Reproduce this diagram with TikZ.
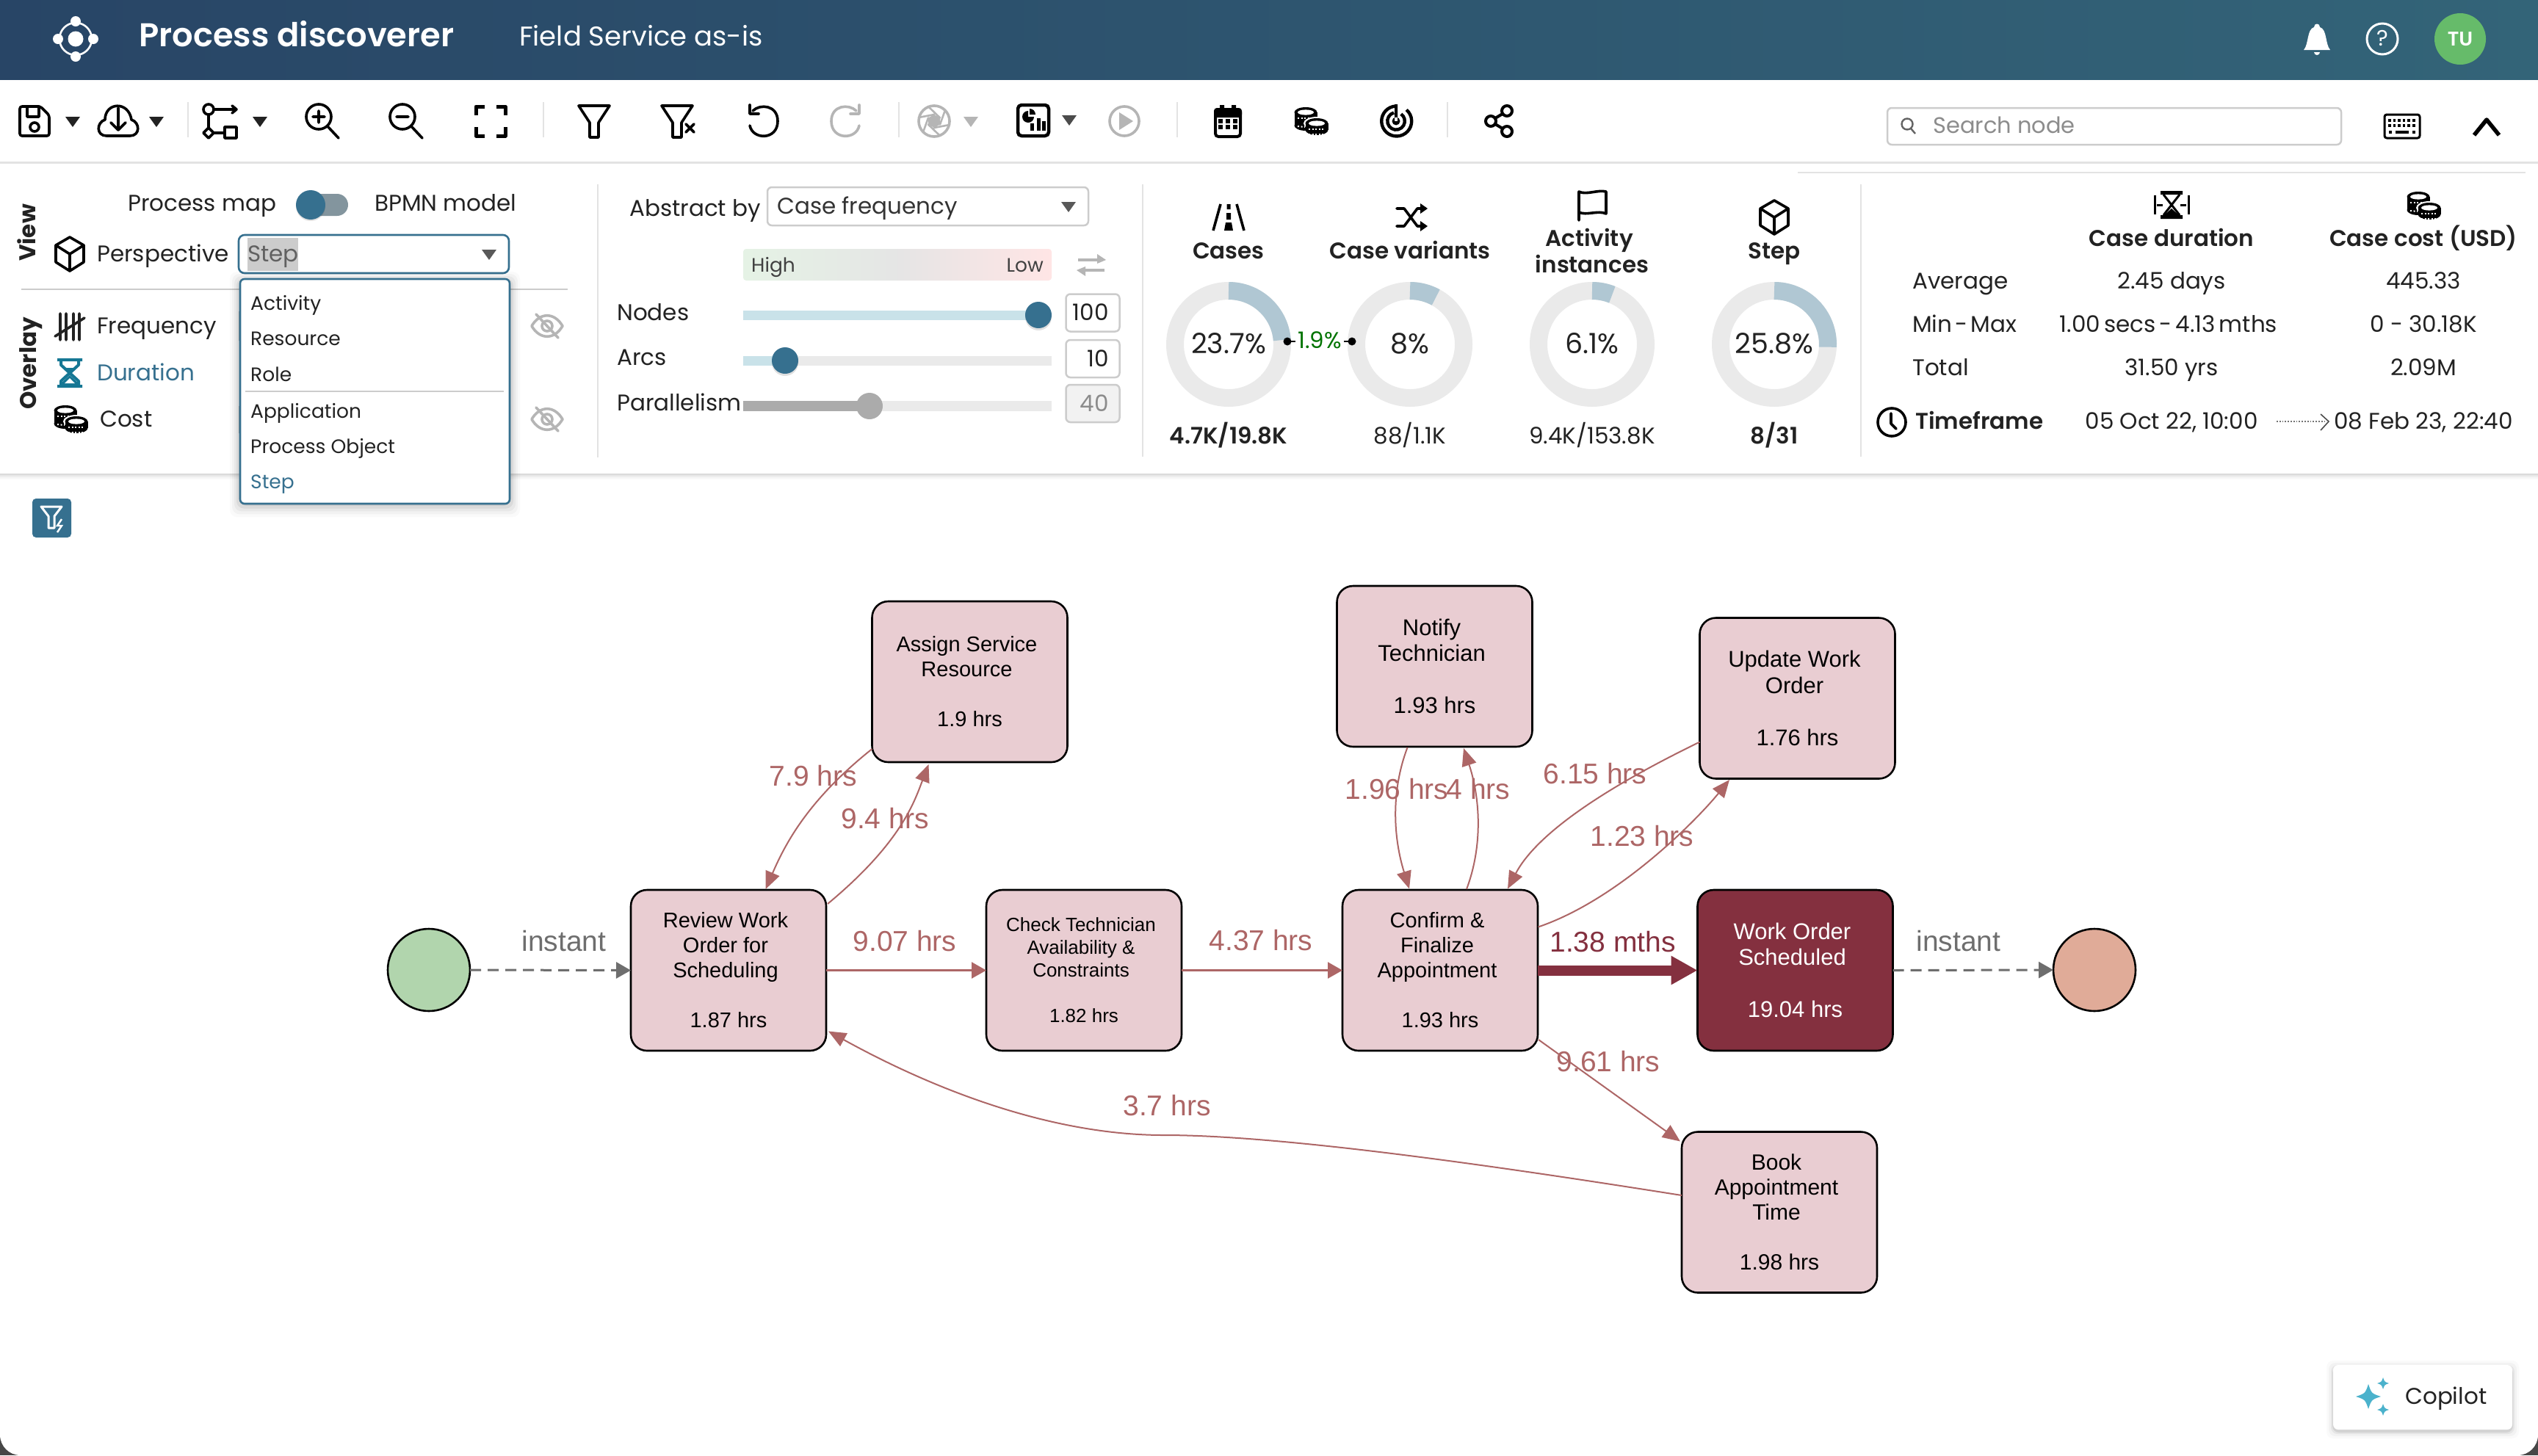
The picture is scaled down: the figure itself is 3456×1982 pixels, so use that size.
\documentclass[tikz,border=0pt]{standalone}
\usepackage{fontspec}
\setmainfont{Poppins}
\newfontfamily\pop{Poppins}[BoldFont={Poppins SemiBold}]
\newfontfamily\popx{Poppins}
\newfontfamily\helv{Liberation Sans}
\usetikzlibrary{arrows.meta,calc}
\definecolor{edgec}{HTML}{AD6666}
\definecolor{darkc}{HTML}{84303F}
\definecolor{lightc}{HTML}{E9CDD2}
\definecolor{startc}{HTML}{B1D5AD}
\definecolor{endc}{HTML}{E0AB98}
\definecolor{grayc}{HTML}{6E6E6E}
\definecolor{uib}{HTML}{36708F}
\definecolor{hourb}{HTML}{157794}
\definecolor{hdrL}{HTML}{284566}
\definecolor{hdrR}{HTML}{336478}
\definecolor{txt}{HTML}{222222}
\definecolor{track}{HTML}{EAEAEA}
\definecolor{arcc}{HTML}{B0C7D3}
\definecolor{sep}{HTML}{E3E3E3}
\definecolor{icong}{HTML}{B5B5B5}
\definecolor{tugreen}{HTML}{66BB6A}
\definecolor{spark}{HTML}{4BB2CC}
\definecolor{bord}{HTML}{CCCCCC}
\definecolor{slid}{HTML}{C9E2E9}
\tikzset{
 box/.style={draw=black,line width=2.6pt,rounded corners=22pt,fill=lightc,inner sep=0pt,outer sep=0pt,minimum width=266pt,minimum height=219pt,align=center,text=black,font=\helv\fontsize{29}{34}\selectfont},
 boxs/.style={box,font=\helv\fontsize{26}{31}\selectfont},
 boxm/.style={box,font=\helv\fontsize{30}{34}\selectfont},
 boxl/.style={box,font=\helv\fontsize{31}{35.5}\selectfont},
 boxd/.style={boxl,fill=darkc,text=white},
 ev/.style={circle,draw=black,line width=2.6pt,minimum size=112pt,inner sep=0pt,outer sep=0pt},
 estr/.style={draw=edgec,line width=2.6pt,-{Triangle[length=20pt,width=22pt]}},
 ecur/.style={draw=edgec,line width=2pt,-{Triangle[length=24pt,width=20pt]}},
 edash/.style={draw=grayc,line width=3pt,dash pattern=on 15pt off 9pt,-{Triangle[length=20pt,width=22pt]}},
 elab/.style={anchor=mid,text=edgec,font=\helv\fontsize{39}{44}\selectfont,inner sep=0pt,yshift=-11pt},
 ui/.style={anchor=mid,text=txt,font=\pop\fontsize{31}{36}\selectfont,inner sep=0pt,yshift=-8pt},
 uil/.style={ui,anchor=mid west},
 uibold/.style={ui,font=\pop\bfseries\fontsize{31}{36}\selectfont},
 pct/.style={ui,font=\pop\fontsize{38}{42}\selectfont,yshift=-2pt},
 item/.style={uil,font=\pop\fontsize{26.5}{30}\selectfont},
 ic/.style={line width=3.6pt,draw=black,line cap=round,line join=round},
 icg/.style={line width=3.6pt,draw=icong,line cap=round,line join=round},
}
\newcommand{\Caret}[3][txt]{\fill[#1] (#2-10,#3-6)--(#2+10,#3-6)--(#2,#3+8)--cycle;}
\newcommand{\Sep}[3]{\draw[sep,line width=2pt] (#1,#2)--(#1,#3);}
\newcommand{\Cube}[2]{\begin{scope}[shift={(#1,#2)}]
 \draw[ic] (0,-23)--(19,-12)--(19,11)--(0,23)--(-19,11)--(-19,-12)--cycle (-19,-12)--(0,0)--(19,-12) (0,0)--(0,23);\end{scope}}
% one stack of coins: centre x, y of top disc, y of bottom disc
\newcommand{\Stack}[3]{%
 \fill[black] (#1-15.5,#2) rectangle (#1+15.5,#3);
 \fill[black] (#1,#2) ellipse[x radius=15.5pt,y radius=7pt];
 \fill[black] (#1,#3) ellipse[x radius=15.5pt,y radius=7pt];
 \fill[white] (#1,#2) ellipse[x radius=11pt,y radius=3.6pt];
 \draw[white,line width=2pt,dash pattern=on 2pt off 2.6pt] (#1-11,#2+8)--(#1+11,#2+8);}
\newcommand{\Coins}[2]{\begin{scope}[shift={(#1,#2)}]
 \Stack{-7}{-12}{6}
 \draw[white,line width=2pt,dash pattern=on 2pt off 2.6pt] (-18,7)--(-8,8);
 \fill[white] (8,3) ellipse[x radius=18pt,y radius=9pt];
 \fill[white] (-7.5,3) rectangle (23.5,21);
 \Stack{8}{3}{12}
 \draw[white,line width=2pt,dash pattern=on 2pt off 2.6pt] (-3,18)--(19,18);
 \end{scope}}
\newcommand{\Eye}[2]{\begin{scope}[shift={(#1,#2)}]
 \draw[icg] (-21,0) .. controls (-10,-19) and (10,-19) .. (21,0) .. controls (10,19) and (-10,19) .. (-21,0);
 \draw[icg] (0,0) circle (7pt);\draw[icg] (-15,-16)--(15,16);\end{scope}}
\newcommand{\Sand}[3]{\begin{scope}[shift={(#1,#2)}]
 \fill[#3] (-17,-20) rectangle (17,-16) (-17,16) rectangle (17,20);
 \draw[#3,line width=4pt,line join=round] (-12,-18)--(-12,-11)--(12,11)--(12,18) (12,-18)--(12,-11)--(-12,11)--(-12,18);
 \fill[#3] (-9,-7)--(9,-7)--(0,2)--cycle;
 \fill[#3] (0,3)--(12,14)--(12,18)--(-12,18)--(-12,14)--cycle;
 \fill[white] (0,7)--(7,14)--(-7,14)--cycle;\end{scope}}
\newcommand{\Donut}[3]{\draw[track,line width=24pt] (#1,#2) circle (73pt);
 \draw[arcc,line width=24pt] (#1,#2-73) arc[start angle=90,delta angle={-#3*3.6},radius=73pt];}
\newcommand{\Star}[3]{\fill[spark] (#1-#3,#2) .. controls (#1-#3*.25,#2-#3*.25) .. (#1,#2-#3) .. controls (#1+#3*.25,#2-#3*.25) .. (#1+#3,#2) .. controls (#1+#3*.25,#2+#3*.25) .. (#1,#2+#3) .. controls (#1-#3*.25,#2+#3*.25) .. cycle;}
\begin{document}
\begin{tikzpicture}[x=1pt,y=-1pt]
\useasboundingbox (0,0) rectangle (3456,1982);
% page corners
\fill[black!72] (0,1900) rectangle (3456,1982);
\fill[white,rounded corners=28pt] (0,1800) rectangle (3456,1982);
\fill[white] (0,0) rectangle (3456,1880);
% header
\shade[left color=hdrL,right color=hdrR] (0,0) rectangle (3456,108);
\begin{scope}[shift={(103,53)}]
 \draw[white,line width=2.6pt] (0,0) circle (22pt);
 \fill[white] (0,0) circle (10.5pt) (0,-24) circle (7pt) (0,24) circle (7pt) (-24,0) circle (7pt) (24,0) circle (7pt);
\end{scope}
\node[anchor=mid west,text=white,inner sep=0pt,font=\pop\bfseries\fontsize{44.8}{50}\selectfont,yshift=-11pt] (title) at (189,50) {Process discoverer};
\node[anchor=mid west,text=white,inner sep=0pt,font=\pop\fontsize{37}{42}\selectfont,yshift=-10pt] (sub) at (707,50) {Field Service as-is};
\begin{scope}[shift={(3155,54)}]
 \fill[white] (-18,14) .. controls (-11,6) and (-14,-14) .. (-4,-17) .. controls (-4,-23) and (4,-23) .. (4,-17) .. controls (14,-14) and (11,6) .. (18,14) -- cycle;
 \fill[white] (-4,17) arc[start angle=180,end angle=360,radius=4pt];
\end{scope}
\draw[white,line width=3pt] (3244,53) circle (21pt);
\node[anchor=mid,text=white,inner sep=0pt,font=\pop\fontsize{30}{34}\selectfont,yshift=-7pt] (help) at (3244,53) {?};
\node[circle,fill=tugreen,minimum size=70pt,inner sep=0pt,text=white,font=\pop\bfseries\fontsize{27}{30}\selectfont] (tu) at (3350,53) {TU};
% toolbar
\draw[sep,line width=3pt] (0,221)--(3456,221);
\draw[sep,line width=2.5pt] (2448,235)--(3439,235);
\Sep{256}{139}{187}\Sep{740}{139}{187}\Sep{1224}{139}{187}\Sep{1603}{139}{187}\Sep{1971}{139}{187}
\begin{scope}[shift={(47,165)}]
 \draw[ic,rounded corners=3pt] (-20,-20)--(8,-20)--(20,-8)--(20,20)--(-20,20)--cycle;
 \draw[ic] (-10,-20)--(-10,-6)--(6,-6)--(6,-20); \draw[ic] (0,8) circle (6pt);
\end{scope}
\Caret{99}{165}\Caret{213}{165}\Caret{354}{165}\Caret[black!70]{1456}{163}\Caret[icong]{1322}{165}
\begin{scope}[shift={(161,165)}]
 \draw[ic] (-8,20)--(-16,20) .. controls (-30,20) and (-30,2) .. (-18,-2) .. controls (-18,-26) and (14,-28) .. (18,-2) .. controls (30,2) and (30,20) .. (16,20)--(-8,20);
 \draw[ic] (0,-18)--(0,12) (-10,2)--(0,12)--(10,2);
\end{scope}
\begin{scope}[shift={(302,165)}]
 \draw[ic] (-18,-16) circle (7pt) (-11,-16)--(20,-16) (14,-21)--(20,-16)--(14,-11) (-18,-9)--(-18,9) (-18,9)--(-11,16)--(-18,23)--(-25,16)--cycle (-11,16)--(4,16);
 \draw[ic] (4,8) rectangle (20,23);
\end{scope}
\begin{scope}[shift={(439,164)}]
 \draw[ic] (-5,-5) circle (17pt) (7,8)--(22,24) (-13,-5)--(3,-5) (-5,-13)--(-5,3);
\end{scope}
\begin{scope}[shift={(553,164)}]
 \draw[ic] (-5,-5) circle (17pt) (7,8)--(22,24) (-13,-5)--(3,-5);
\end{scope}
\begin{scope}[shift={(668,165)}]
 \draw[line width=5pt,black,line join=round] (-20,-8)--(-20,-20)--(-8,-20) (8,-20)--(20,-20)--(20,-8) (-20,8)--(-20,20)--(-8,20) (8,20)--(20,20)--(20,8);
\end{scope}
\begin{scope}[shift={(809,165)}]
 \draw[ic] (-21,-21)--(21,-21)--(6,2)--(6,22)--(-6,22)--(-6,2)--cycle;
\end{scope}
\begin{scope}[shift={(922,165)}]
 \draw[ic] (-21,-21)--(21,-21)--(6,2)--(6,22)--(-6,22)--(-6,2)--cycle;
 \draw[ic] (12,4)--(23,15) (23,4)--(12,15);
\end{scope}
\begin{scope}[shift={(1039,165)}]
 \draw[ic] (-14,-14) .. controls (-4,-24) and (20,-22) .. (20,0) .. controls (20,26) and (-14,26) .. (-18,6);
 \draw[ic] (-18,-22)--(-18,-10)--(-6,-10);
\end{scope}
\begin{scope}[shift={(1152,165)}]
 \draw[icg] (14,-14) .. controls (4,-24) and (-20,-22) .. (-20,0) .. controls (-20,26) and (14,26) .. (18,6);
 \draw[icg] (18,-22)--(18,-10)--(6,-10);
\end{scope}
\begin{scope}[shift={(1272,165)}]
 \draw[icg] (0,0) circle (21pt);
 \fill[icong] (0,-9)--(8,-4.5)--(8,4.5)--(0,9)--(-8,4.5)--(-8,-4.5)--cycle;
 \draw[icg,line width=2.6pt] (-7,-19)--(8,-4.5) (15,-15)--(8,4.5) (21,5)--(0,9) (7,19)--(-8,4.5) (-15,15)--(-8,-4.5) (-21,-5)--(0,-9);
\end{scope}
\begin{scope}[shift={(1407,164)}]
 \draw[ic,rounded corners=5pt,line width=4.5pt] (-21,-21) rectangle (21,21);
 \fill[black] (-7,-5) -- (-7,-13) arc[start angle=90,delta angle=270,radius=8pt] -- cycle;
 \fill[black] (-5,-8) -- (-5,-16) arc[start angle=90,delta angle=-90,radius=8pt] -- cycle;
 \draw[black,line width=5pt] (-2,14)--(-2,4) (7,14)--(7,-3) (14.5,14)--(14.5,1);
\end{scope}
\begin{scope}[shift={(1531,165)}]
 \draw[icg] (0,0) circle (20pt); \fill[icong] (-7,-12)--(12,0)--(-7,12)--cycle;
\end{scope}
\begin{scope}[shift={(1672,165)}]
 \draw[black,line width=4pt,rounded corners=4pt] (-17,-16) rectangle (17,21);
 \fill[black,rounded corners=4pt] (-19,-18) rectangle (19,-5);
 \fill[black] (-11,-22) rectangle (-5,-14) (5,-22) rectangle (11,-14);
 \foreach \a in {-10,0,10} \foreach \b in {0,8} {\fill[black] (\a-2.6,\b-2.6) rectangle (\a+2.6,\b+2.6);}
\end{scope}
\Coins{1785}{165}
\begin{scope}[shift={(1901,165)}]
 \draw[black,line width=4.4pt] (0,-20.5) arc[start angle=92,delta angle=317,radius=20.5pt];
 \fill[white] (1,-26) rectangle (7,-12);
 \draw[black,line width=4.4pt] (-3,-11.5) arc[start angle=105,delta angle=310,radius=11.8pt];
 \fill[black] (0,0) circle (5.5pt) (-2,0) rectangle (2,-23);
\end{scope}
\begin{scope}[shift={(2042,165)}]
 \draw[ic,line width=4pt] (-12,0) circle (7pt) (10,-14) circle (7pt) (10,14) circle (7pt) (-6,-4)--(4,-10) (-6,4)--(4,10);
\end{scope}
% search
\node[draw=bord,line width=2.5pt,rounded corners=6pt,minimum width=618pt,minimum height=50pt,inner sep=0pt] (search) at (2879,172) {};
\begin{scope}[shift={(2598,171)}]
 \draw[draw=txt!70,line width=2.4pt] (-1,-2) circle (7.5pt) (4,4)--(10,11);
\end{scope}
\node[uil,text=black!45,font=\pop\fontsize{30.5}{34}\selectfont] (searcht) at (2632,171) {Search node};
\begin{scope}[shift={(3271,172)}]
 \draw[ic,rounded corners=3pt,line width=3pt] (-24,-16) rectangle (24,16);
 \draw[black,line width=3.6pt,dash pattern=on 3.6pt off 3pt] (-19,-8)--(19,-8) (-19,-1)--(19,-1);
 \draw[black,line width=3.6pt] (-18,8)--(-14,8) (-9,8)--(9,8) (14,8)--(18,8);
\end{scope}
\draw[ic,line width=5.5pt,line cap=butt] (3369,184)--(3386,163)--(3403,184);
% panel bottom shadow
\foreach \i/\o in {0/.16,1/.13,2/.10,3/.08,4/.06,5/.04,6/.03,7/.02}{\fill[black,opacity=\o] (0,645+\i) rectangle (3456,646+\i);}
% left panel
\node[anchor=mid,inner sep=0pt,text=txt,rotate=90,font=\popx\bfseries\fontsize{31}{34}\selectfont] (view) at (46,317) {View};
\node[anchor=mid,inner sep=0pt,text=txt,rotate=90,font=\popx\bfseries\fontsize{31}{34}\selectfont] (ovl) at (47,495) {Overlay};
\node[uil] (pm) at (174,277) {Process map};
\node[uil] (bm) at (510,277) {BPMN model};
\fill[black!45!uib!55!white,rounded corners=15pt] (406,264) rectangle (474,294);
\fill[black,opacity=.12] (423,281) circle (20pt);
\fill[uib] (423,279) circle (20pt);
\Cube{95}{346}
\node[uil] (persp) at (132,346) {Perspective};
\draw[bord,line width=2.5pt] (29,394)--(773,394);
\fill[black,opacity=.25] (325,424) rectangle (327,464) (325,553) rectangle (327,590);
\begin{scope}[shift={(95,445)}]
 \draw[txt,line width=3.6pt,line cap=round] (-13,-18)--(-13,18) (-5,-18)--(-5,18) (5,-18)--(5,18) (13,-18)--(13,18) (-20,13)--(20,-12);
\end{scope}
\node[uil] (freq) at (132,444) {Frequency};
\Sand{95}{508}{hourb}
\node[uil,text=uib] (dur) at (132,508) {Duration};
\Coins{96}{571}
\node[uil] (cost) at (136,571) {Cost};
\Eye{745}{444}\Eye{745}{571}
% perspective dropdown
\node[draw=uib,line width=2.6pt,rounded corners=8pt,minimum width=368pt,minimum height=52pt,inner sep=0pt,fill=white] (dd) at (509,346) {};
\fill[black!20] (337,324) rectangle (406,369);
\node[uil,text=black!62] (ddt) at (337,346) {Step};
\Caret[black!65]{666}{346}
% menu
\foreach \i/\o in {14/.02,11/.03,8/.04,5/.06,2/.08}{\fill[black,opacity=\o,rounded corners=10pt] (327-\i,384-\i) rectangle (694+\i,686+1.3*\i);}
\node[draw=uib,line width=2.6pt,rounded corners=6pt,minimum width=367pt,minimum height=306pt,inner sep=0pt,fill=white] (menu) at (510.5,533) {};
\node[item] (m1) at (341,412) {Activity};
\node[item] (m2) at (341,460) {Resource};
\node[item] (m3) at (341,509) {Role};
\draw[bord,line width=2.5pt] (334,533)--(686,533);
\node[item] (m4) at (341,559) {Application};
\node[item] (m5) at (341,607) {Process Object};
\node[item,text=uib] (m6) at (341,655) {Step};
\Sep{814}{251}{623}
% abstraction
\node[uil] (abs) at (857,284) {Abstract by};
\node[draw=bord,line width=2.5pt,rounded corners=6pt,minimum width=437pt,minimum height=52pt,inner sep=0pt] (absd) at (1263.5,281) {};
\node[uil,text=black!80] (abst) at (1058,281) {Case frequency};
\Caret[black!65]{1455}{281}
\shade[left color=green!50!black!10!white,right color=red!10!white,rounded corners=4pt,middle color=white!90!black] (1012,339) rectangle (1432,382);
\node[uil,font=\pop\fontsize{26.5}{30}\selectfont,text=black!75] (hi) at (1023,360) {High};
\node[ui,anchor=mid east,font=\pop\fontsize{26.5}{30}\selectfont,text=black!75] (lo) at (1421,360) {Low};
\begin{scope}[shift={(1486,361)}]
 \draw[icong,line width=4pt] (-18,-7)--(14,-7) (18,7)--(-14,7);
 \fill[icong] (8,-15)--(20,-7)--(8,-2)--cycle (-8,15)--(-20,7)--(-8,2)--cycle;
\end{scope}
\node[uil] (nodes) at (840,426) {Nodes};
\node[uil] (arcs) at (840,487) {Arcs};
\node[uil] (par) at (840,549) {Parallelism};
\fill[slid] (1012,423) rectangle (1414,436);
\fill[black,opacity=.12] (1414,432) circle (18pt);
\fill[uib] (1414,429) circle (18pt);
\fill[track] (1012,485) rectangle (1432,498);
\fill[slid] (1012,485) rectangle (1069,498);
\fill[black,opacity=.12] (1069,494) circle (18pt);
\fill[uib] (1069,491) circle (18pt);
\fill[track] (1012,546) rectangle (1432,560);
\fill[black!33] (1012,546) rectangle (1184,560);
\fill[black!33] (1184,553) circle (18pt);
\foreach \yy/\vv/\cc/\ff in {426/100/txt/white,488.5/10/txt/white,549.5/40/black!45/black!5}{
 \node[draw=bord,line width=2.5pt,rounded corners=6pt,minimum width=73pt,minimum height=51pt,inner sep=0pt,fill=\ff] (nb\vv) at (1488,\yy) {};
 \node[ui,anchor=mid east,text=\cc] (nt\vv) at (1510,\yy) {\vv};
}
\Sep{1556}{251}{622}
% metrics
\Donut{1673}{469}{23.7}\Donut{1920}{469}{8}\Donut{2168}{469}{6.1}\Donut{2416}{469}{25.8}
\node[pct] (p1) at (1673,469) {23.7\%};
\node[pct] (p2) at (1920,469) {8\%};
\node[pct] (p3) at (2168,469) {6.1\%};
\node[pct] (p4) at (2416,469) {25.8\%};
\node[uibold] (l1) at (1673,342) {Cases};
\node[uibold] (l2) at (1920,342) {Case variants};
\node[uibold] (l3a) at (2164,325) {Activity};
\node[uibold] (l3b) at (2168,361) {instances};
\node[uibold] (l4) at (2416,342) {Step};
\node[uibold] (v1) at (1673,594) {4.7K/19.8K};
\node[ui] (v2) at (1920,594) {88/1.1K};
\node[ui] (v3) at (2168,594) {9.4K/153.8K};
\node[uibold] (v4) at (2416,594) {8/31};
\node[ui,font=\pop\fontsize{31}{34}\selectfont,text=green!45!black] (g) at (1797,464) {\spaceskip=0pt 1.9\%};
\fill[black] (1753,465) circle (5.5pt) (1841,465) circle (5.5pt);
\draw[black,line width=2pt] (1753,465)--(1764,465) (1830,465)--(1841,465);
\begin{scope}[shift={(1673,296)}]
 \draw[black,line width=3.6pt] (-11,-18)--(-21,18) (11,-18)--(21,18);
 \fill[black] (-2.5,-18) rectangle (2.5,-11) (-3,-6) rectangle (3,3) (-4,7)--(4,7)--(6,18)--(-6,18)--cycle;
\end{scope}
\begin{scope}[shift={(1920,296)}]
 \draw[ic] (-18,-12)--(-8,-12)--(10,12)--(18,12) (-18,12)--(-8,12)--(10,-12)--(18,-12);
 \fill[black] (14,-19)--(24,-12)--(14,-5)--cycle (14,5)--(24,12)--(14,19)--cycle;
\end{scope}
\begin{scope}[shift={(2168,280)}]
 \draw[ic] (-18,20)--(-18,-19) .. controls (-8,-14) and (8,-22) .. (19,-19)--(19,11) .. controls (8,6) and (-8,14) .. (-18,9);
\end{scope}
\Cube{2416}{296}
\Sep{2534}{251}{622}
% stats
\begin{scope}[shift={(2957,279)}]
 \fill[black] (-15,-19) rectangle (15,-14) (-15,14) rectangle (15,19);
 \draw[black,line width=3pt] (-11,-14)--(11,14) (11,-14)--(-11,14);
 \fill[black] (0,5)--(11,15)--(-11,15)--cycle;
 \draw[black,line width=3pt] (-23,-13)--(-23,13) (23,-13)--(23,13) (-20,0)--(-12,0) (20,0)--(12,0);
\end{scope}
\Coins{3300}{280}
\node[uibold] (cd) at (2957,325) {Case duration};
\node[uibold] (cc) at (3300,325) {Case cost (USD)};
\node[uil] (a1) at (2604,383) {Average};
\node[uil] (a2) at (2604,442) {\spaceskip=4pt Min - Max};
\node[uil] (a3) at (2604,501) {Total};
\node[ui] (b1) at (2957,383) {2.45 days};
\node[ui] (b2) at (2953,442) {\spaceskip=5pt 1.00 secs - 4.13 mths};
\node[ui] (b3) at (2957,501) {31.50 yrs};
\node[ui] (c1) at (3300,383) {445.33};
\node[ui] (c2) at (3300,442) {0 - 30.18K};
\node[ui] (c3) at (3300,501) {2.09M};
\draw[ic] (2576,575) circle (19pt) (2575,563)--(2575,577)--(2582,584);
\node[uibold,anchor=mid west] (tf) at (2608,574) {Timeframe};
\node[ui] (t1) at (2957,574) {05 Oct 22, 10:00};
\node[ui] (t2) at (3300,574) {08 Feb 23, 22:40};
\draw[black!55,line width=1.8pt,dotted] (3100,574)--(3166,574);
\draw[black!70,line width=1.6pt] (3160,564)--(3171,574)--(3160,586);
% filter badge
\fill[uib,rounded corners=5pt] (44,679) rectangle (97,732);
\draw[white,line width=3pt,line join=round] (56,690)--(84,690)--(74,703)--(74,719)--(66,719)--(66,703)--cycle;
\draw[white,line width=2.4pt] (84,707)--(78,716)--(84,716)--(78,725);
% copilot
\foreach \i/\o in {9/.02,6/.03,3/.05,1/.08}{\fill[black,opacity=\o,rounded corners=9pt] (3177-\i,1859-\i+3) rectangle (3421+\i,1947+\i+3);}
\node[fill=white,rounded corners=7pt,minimum width=244pt,minimum height=88pt,inner sep=0pt] (cop) at (3299,1903) {};
\Star{3225}{1902}{17}\Star{3245}{1884}{8}\Star{3245}{1920}{8}
\node[uil,font=\pop\fontsize{31}{36}\selectfont] (copt) at (3275,1902) {Copilot};
% process graph
\node[ev,fill=startc] (start) at (584,1321) {};
\node[ev,fill=endc] (end) at (2852,1321) {};
\node[box] (assign) at (1320.5,928.5) {Assign Service\kern8pt\\Resource\kern8pt\\ \\1.9 hrs};
\node[box] (review) at (992,1321.5) {Review Work\kern8pt\\Order for\kern8pt\\Scheduling\kern8pt\\ \\1.87 hrs};
\node[boxs] (check) at (1476,1321.5) {Check Technician\kern8pt\\Availability \&\kern8pt\\Constraints\kern8pt\\ \\1.82 hrs};
\node[box] (confirm) at (1961,1321.5) {Confirm \&\kern8pt\\Finalize\kern8pt\\Appointment\kern8pt\\ \\1.93 hrs};
\node[boxl] (notify) at (1953.5,907.5) {Notify\kern8pt\\Technician\kern8pt\\ \\1.93 hrs};
\node[boxl] (update) at (2447.5,951) {Update Work\kern8pt\\Order\kern8pt\\ \\1.76 hrs};
\node[boxd] (wo) at (2444.5,1321.5) {Work Order\kern8pt\\Scheduled\kern8pt\\ \\19.04 hrs};
\node[boxm] (book) at (2423,1651) {Book\kern8pt\\Appointment\kern8pt\\Time\kern8pt\\ \\1.98 hrs};
% connectors
\draw[edash] (start.east)--(review.west);
\draw[edash] (wo.east)--(end.west);
\draw[estr] (review.east)--(check.west);
\draw[estr] (check.east)--(confirm.west);
\draw[draw=darkc,line width=14pt,-{Triangle[length=36pt,width=37pt]}] (confirm.east)--(wo.west);
\draw[ecur] ([shift={(2,19)}]review.north east) .. controls (1227,1148) and (1245,1092) .. ([shift={(-56,3)}]assign.south);
\draw[ecur] ([shift={(0,-18)}]assign.south west) .. controls (1099.5,1090) and (1069,1150) .. ([shift={(50.5,-1)}]review.north);
\draw[ecur] ([shift={(0,-23)}]book.west) .. controls (2050,1590) and (1750,1546) .. (1585,1546) .. controls (1430,1546) and (1270,1483) .. ([shift={(3,-26.5)}]review.south east);
\draw[ecur] ([shift={(1,-15)}]confirm.south east) -- ([shift={(-2,13)}]book.north west);
\draw[ecur] ([shift={(-37,1)}]notify.south) .. controls (1893,1080) and (1898,1143) .. ([shift={(-42,-1.5)}]confirm.north);
\draw[ecur] ([shift={(36,-1)}]confirm.north) .. controls (2020,1150) and (2015,1085) .. ([shift={(39.5,2)}]notify.south);
\draw[ecur] ([shift={(0,-50)}]update.south west) .. controls (2250,1042) and (2102,1117) .. ([shift={(92,-1.5)}]confirm.north);
\draw[ecur] ([shift={(0.5,50.5)}]confirm.north east) .. controls (2205,1225) and (2312,1115) .. ([shift={(-92.5,1.5)}]update.south);
% connector labels
\node[elab] (la) at (1107.5,1057) {7.9 hrs};
\node[elab] (lb) at (1205,1115) {9.4 hrs};
\node[elab] (lc) at (1232,1282) {9.07 hrs};
\node[elab] (ld) at (1717,1281) {4.37 hrs};
\node[elab,text=darkc] (le) at (2196,1283) {1.38 mths};
\node[elab] (lf) at (1589,1506) {3.7 hrs};
\node[elab] (lg) at (2190,1446) {9.61 hrs};
\node[elab] (lh) at (1902,1075) {1.96 hrs};
\node[elab] (li) at (2013,1075) {4 hrs};
\node[elab] (lj) at (2172,1054) {6.15 hrs};
\node[elab] (lk) at (2236,1139) {1.23 hrs};
\node[elab,text=grayc] (ll) at (768,1282) {instant};
\node[elab,text=grayc] (lm) at (2667,1282) {instant};
\end{tikzpicture}
\end{document}
